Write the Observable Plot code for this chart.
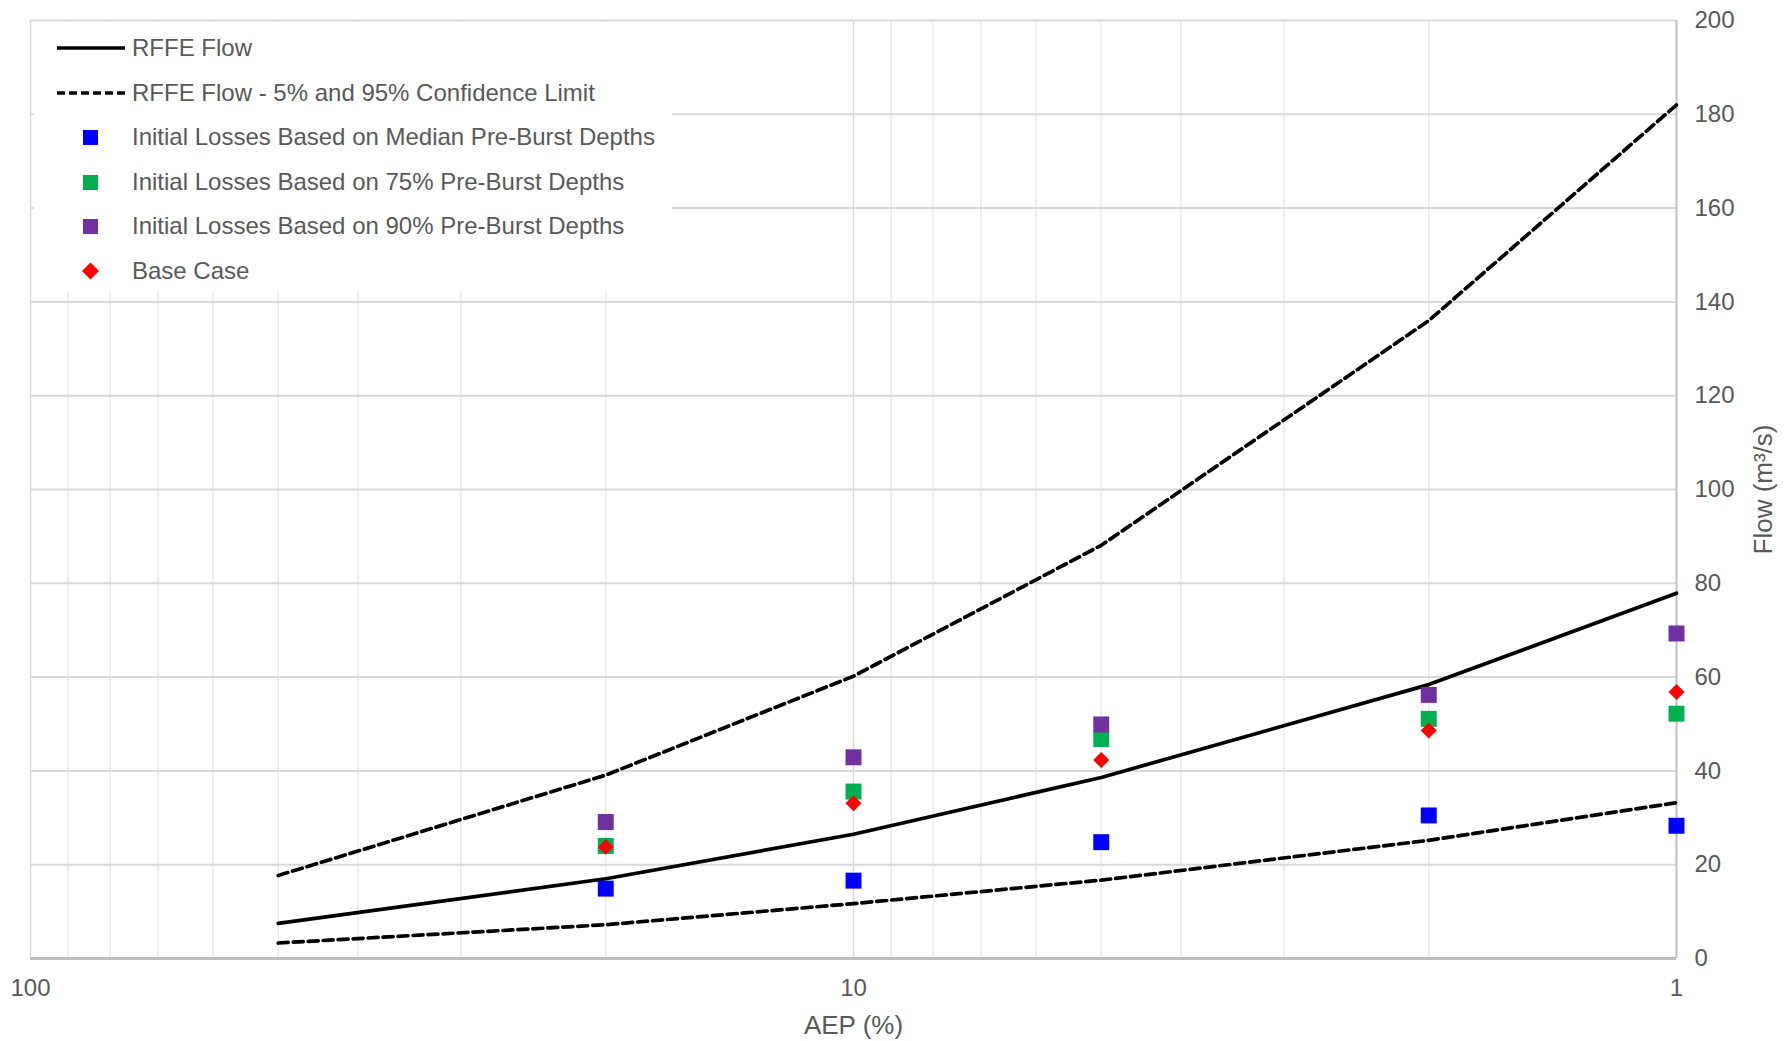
<!DOCTYPE html>
<html>
<head>
<meta charset="utf-8">
<script src="https://cdn.jsdelivr.net/npm/d3@7"></script>
<script src="https://cdn.jsdelivr.net/npm/@observablehq/plot@0.6"></script>
<style>
  body { margin: 0; background: #fff; font-family: "Liberation Sans", Arial, sans-serif; }
  #wrap { position: relative; width: 1789px; height: 1041px; }
  #legend { position: absolute; left: 34px; top: 22px; width: 638px; height: 269px; background: #fff; }
  .row { position: absolute; left: 0; height: 30px; display: flex; align-items: center; font-size: 24px; color: #595959; white-space: nowrap; }
  .row svg { margin-left: 22px; margin-right: 6px; }
</style>
</head>
<body>
<div id="wrap"><div id="legend"></div></div>
<script>
// ---- data ----
const aep = [50, 20, 10, 5, 2, 1];
const rffeFlow = [7.5, 17.0, 26.5, 38.6, 58.4, 77.9];
const rffeUpper = [17.7, 39.1, 60.2, 88.1, 136.0, 182.0];
const rffeLower = [3.3, 7.2, 11.7, 16.7, 25.2, 33.2];

const pointAep = [20, 10, 5, 2, 1];
const lossMedian = [14.9, 16.6, 24.8, 30.5, 28.3];
const loss75 = [24.0, 35.6, 46.8, 51.1, 52.2];
const loss90 = [29.1, 42.9, 49.9, 56.2, 69.3];
const baseCase = [23.8, 33.1, 42.3, 48.6, 56.8];

const xMajorTicks = [100, 10, 1];
const xMinorTicks = [90, 80, 70, 60, 50, 40, 30, 20, 9, 8, 7, 6, 5, 4, 3, 2];
const yTicks = [0, 20, 40, 60, 80, 100, 120, 140, 160, 180, 200];

const xLabel = "AEP (%)";
const yLabel = "Flow (m³/s)";
const seriesNames = [
  "RFFE Flow",
  "RFFE Flow - 5% and 95% Confidence Limit",
  "Initial Losses Based on Median Pre-Burst Depths",
  "Initial Losses Based on 75% Pre-Burst Depths",
  "Initial Losses Based on 90% Pre-Burst Depths",
  "Base Case"
];
const colors = { median: "#0000ff", p75: "#00b050", p90: "#7030a0", base: "#ff0000" };

// ---- tables ----
const lineTable = (vals) => aep.map((a, i) => ({ aep: a, flow: vals[i] }));
const ptTable = (vals) => pointAep.map((a, i) => ({ aep: a, flow: vals[i] }));

const chart = Plot.plot({
  width: 1789,
  height: 1041,
  marginLeft: 30,
  marginRight: 113,
  marginTop: 20,
  marginBottom: 83,
  style: { fontFamily: "Liberation Sans, Arial, sans-serif", fontSize: "24px", color: "#595959", background: "#fff" },
  x: { type: "log", domain: [100, 1] },
  y: { domain: [0, 200] },
  marks: [
    Plot.ruleX(xMinorTicks, { stroke: "#ebebeb", strokeWidth: 1.5 }),
    Plot.ruleX([10], { stroke: "#d9d9d9", strokeWidth: 1.5 }),
    Plot.ruleX([100], { stroke: "#d9d9d9", strokeWidth: 1.5 }),
    Plot.ruleY(yTicks.filter(d => d > 0), { stroke: "#d9d9d9", strokeWidth: 2 }),
    Plot.ruleX([1], { stroke: "#bfbfbf", strokeWidth: 2 }),
    Plot.ruleY([0], { stroke: "#bfbfbf", strokeWidth: 3 }),
    Plot.axisX(xMajorTicks, {
      tickSize: 0, tickPadding: 20, tickFormat: d => String(d),
      label: null, fill: "#595959", fontSize: 24
    }),
    Plot.axisY(yTicks, {
      anchor: "right", tickSize: 0, tickPadding: 18,
      label: null, fill: "#595959", fontSize: 24
    }),
    Plot.text([xLabel], { frameAnchor: "bottom", dy: 75, textAnchor: "middle", fill: "#595959", fontSize: 26 }),
    Plot.text([yLabel], { frameAnchor: "right", dx: 87, rotate: -90, textAnchor: "middle", fill: "#595959", fontSize: 26 }),
    Plot.line(lineTable(rffeUpper), { x: "aep", y: "flow", stroke: "#000", strokeWidth: 3.7, strokeDasharray: "10,5" }),
    Plot.line(lineTable(rffeLower), { x: "aep", y: "flow", stroke: "#000", strokeWidth: 3.7, strokeDasharray: "10,5" }),
    Plot.line(lineTable(rffeFlow), { x: "aep", y: "flow", stroke: "#000", strokeWidth: 3.7 }),
    Plot.dot(ptTable(lossMedian), { x: "aep", y: "flow", symbol: "square", r: 9, fill: colors.median }),
    Plot.dot(ptTable(loss75), { x: "aep", y: "flow", symbol: "square", r: 9, fill: colors.p75 }),
    Plot.dot(ptTable(loss90), { x: "aep", y: "flow", symbol: "square", r: 9, fill: colors.p90 }),
    Plot.dot(ptTable(baseCase), { x: "aep", y: "flow", symbol: "diamond2", r: 7.2, fill: colors.base })
  ]
});
document.getElementById("wrap").insertBefore(chart, document.getElementById("legend"));

// ---- legend ----
const legend = document.getElementById("legend");
const swatches = [
  `<line x1="1" y1="15" x2="69" y2="15" stroke="#000" stroke-width="3.5"/>`,
  `<line x1="1" y1="15" x2="69" y2="15" stroke="#000" stroke-width="3.5" stroke-dasharray="8,4"/>`,
  `<rect x="27" y="8" width="15" height="15" fill="${colors.median}"/>`,
  `<rect x="27" y="8" width="15" height="15" fill="${colors.p75}"/>`,
  `<rect x="27" y="8" width="15" height="15" fill="${colors.p90}"/>`,
  `<path d="M34.5,6.5 L43,15 L34.5,23.5 L26,15 Z" fill="${colors.base}"/>`
];
const rowCenters = [26, 70.5, 115, 159.5, 204, 248.5];
seriesNames.forEach((name, i) => {
  const row = document.createElement("div");
  row.className = "row";
  row.style.top = (rowCenters[i] - 15) + "px";
  row.innerHTML = `<svg width="70" height="30">${swatches[i]}</svg><span>${name}</span>`;
  legend.appendChild(row);
});
</script>
</body>
</html>
